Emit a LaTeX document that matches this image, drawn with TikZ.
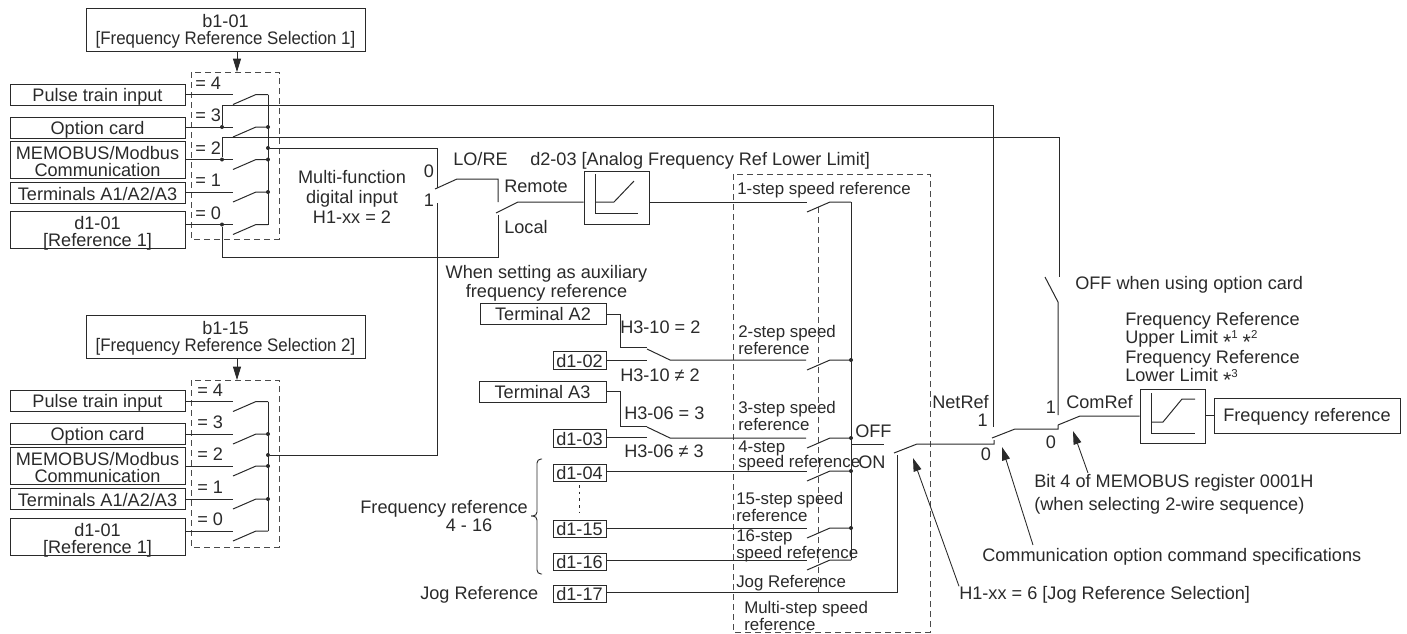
\documentclass[tikz,border=0pt]{standalone}
\usepackage{fontspec}
\setmainfont{Liberation Sans}
\newfontfamily\cnd[FakeStretch=0.93]{Liberation Sans}
\usetikzlibrary{arrows.meta}
\definecolor{ln}{HTML}{2a2a2a}
\tikzset{
  x=0.75pt,y=-0.75pt,
  wire/.style={draw=ln,line width=0.75pt,line join=miter},
  dash box/.style={draw=ln!85,line width=0.7pt,dash pattern=on 4.5pt off 3pt},
  arrowline/.style={draw=ln,line width=0.65pt,-{Triangle[length=10pt,width=6pt]}},
  base/.style={inner sep=0pt,text=ln,font=\fontsize{13.6}{13}\selectfont},
  lbl/.style={base,text height=9.7pt,text depth=0pt},
  lblw/.style={lbl,anchor=west},
  lble/.style={lbl,anchor=east},
  lblc/.style={lbl,anchor=center},
  mlw/.style={base,anchor=west,align=left},
  mlc/.style={base,anchor=center,align=center},
  stp/.style={lblw,font=\fontsize{12.65}{11.5}\selectfont},
  stpm/.style={mlw,font=\fontsize{12.65}{11.25}\selectfont},
  jdot/.style={circle,fill=ln,inner sep=0pt,minimum size=3pt},
  bframe/.style={draw=ln,line width=0.75pt,inner sep=0pt},
  btext/.style={inner sep=0pt,align=center,text=ln,font=\fontsize{13.6}{12.6}\selectfont},
}
% switch: name, x of open end, y of the line, x of the far end
\newcommand\swt[4]{%
  \coordinate (#1a) at (#2,#3+10);
  \coordinate (#1b) at (#2+23,#3);
  \coordinate (#1c) at (#4,#3);
  \draw[wire] (#1a) -- (#1b) -- (#1c);}
% named frame with its text: [shift] name x0 y0 x1 y1 text
\newcommand\nbx[7][1.5]{%
  \pgfmathsetmacro\bw{(#5-#3)*0.75}\pgfmathsetmacro\bh{(#6-#4)*0.75}%
  \node[bframe,minimum width=\bw pt,minimum height=\bh pt] (#2) at ({(#3+#5)/2},{(#4+#6)/2}) {};
  \node[btext] (#2t) at ([yshift=-#1 pt]#2.center) {#7};}
% footnote mark
\newcommand\fnm[1]{{\fontsize{16}{16}\selectfont\raisebox{-0.55ex}{*}}{\fontsize{8.6}{8.6}\selectfont\raisebox{0.75ex}{#1}}}
\begin{document}
\begin{tikzpicture}
\useasboundingbox (0,0) rectangle (1407,633);
% ---------- selector 1
\nbx{top}{86}{8}{365}{51}{b1-01\\{\cnd [Frequency Reference Selection 1]}}
\draw[dash box] (191,72) rectangle (279,239);
\coordinate (dtop) at (237,72);
\draw[arrowline] (top.south -| dtop) -- (dtop);
\nbx{ap}{10}{84}{185}{105}{Pulse train input}
\nbx{ao}{10}{117}{185}{138}{Option card}
\nbx{am}{10}{141}{185}{178}{MEMOBUS/Modbus\\Communication}
\nbx{at}{10}{182}{185}{203}{Terminals A1/A2/A3}
\nbx[3]{ad}{10}{211}{185}{248}{d1-01\\{}[Reference 1]}
\foreach \n/\v/\y in {ap/4/94.5,ao/3/127,am/2/159.5,at/1/192,ad/0/224.5}{
  \swt{s\n}{233}{\y}{268}
  \coordinate (i\n) at (233,\y);
  \draw[wire] (\n.east |- i\n) -- (i\n);
  \node[lblw] (l\n) at (195,\y-11.5) {= \v};
}
\draw[wire] (sapc) -- (sadc);
\foreach \n in {ao,am,at}{\node[jdot] (j\n) at (s\n c) {};}
\node[jdot] (aout) at (268,148) {};
\node[jdot] (ao1) at (222,127) {};
\node[jdot] (am1) at (222,159.5) {};
\node[jdot] (ad1) at (222,224.5) {};
% ---------- selector 2
\nbx{top2}{86}{315}{365}{358}{b1-15\\{\cnd [Frequency Reference Selection 2]}}
\draw[dash box] (191,380) rectangle (279,547);
\coordinate (dtopb) at (237,380);
\draw[arrowline] (top2.south -| dtopb) -- (dtopb);
\nbx{bp}{10}{390}{185}{411.5}{Pulse train input}
\nbx{bo}{10}{423}{185}{444}{Option card}
\nbx{bm}{10}{447}{185}{484}{MEMOBUS/Modbus\\Communication}
\nbx{bt}{10}{488}{185}{509}{Terminals A1/A2/A3}
\nbx[3]{bd}{10}{518}{185}{555}{d1-01\\{}[Reference 1]}
\foreach \n/\v/\y in {bp/4/401.5,bo/3/434,bm/2/466,bt/1/499,bd/0/531}{
  \swt{s\n}{233}{\y}{268}
  \coordinate (i\n) at (233,\y);
  \draw[wire] (\n.east |- i\n) -- (i\n);
  \node[lblw] (l\n) at (197,\y-11.5) {= \v};
}
\draw[wire] (sbpc) -- (sbdc);
\foreach \n in {bo,bm,bt}{\node[jdot] (j\n) at (s\n c) {};}
\node[jdot] (bout) at (268,455) {};
% ---------- LO/RE selection
\coordinate (mf0) at (437,148);
\coordinate (mf0e) at (437,188);
\coordinate (mf1) at (437,203);
\coordinate (mf1b) at (437,455);
\draw[wire] (aout) -- (mf0) -- (mf0e);
\draw[wire] (bout) -- (mf1b) -- (mf1);
\coordinate (lr1) at (435,189);
\coordinate (lr2) at (457,179);
\coordinate (lr3) at (498,179);
\coordinate (lr4) at (498,202);
\draw[wire] (lr1) -- (lr2) -- (lr3) -- (lr4);
\nbx{lim1}{584}{171}{649}{224}{}
\coordinate (rl1) at (496,213);
\coordinate (rl2) at (518,202);
\draw[wire] (rl1) -- (rl2) -- (lim1.west |- rl2);
\coordinate (loc1) at (498,215);
\coordinate (loc2) at (498,257);
\coordinate (loc3) at (222,257);
\draw[wire] (loc1) -- (loc2) -- (loc3) -- (ad1);
\draw[wire] (595,174) -- (595,213) -- (638,213);
\draw[wire] (595,202) -- (614,202) -- (634,181);
\node[lblc] (n0) at (429,171) {0};
\node[lblc] (n1) at (429,200) {1};
\node[lblw] (lore) at (453,159) {LO/RE};
\node[lblw] (d203) at (530,159) {d2-03 [Analog Frequency Ref Lower Limit]};
\node[lblw] (rem) at (504,186) {Remote};
\node[lblw] (locl) at (504,227) {Local};
\node[mlc,font=\fontsize{13.6}{15}\selectfont] (mfd) at (352,197) {Multi-function\\digital input\\H1-xx = 2};
\node[mlc,font=\fontsize{13.6}{14.25}\selectfont] (aux) at (546.5,283) {When setting as auxiliary\\frequency reference};
% ---------- multi-step block
\draw[dash box] (733,174) rectangle (930,632);
\coordinate (inA) at (818,207);
\coordinate (inB) at (818,597);
\draw[dash box] (inA) -- (inB);
\swt{m1}{807}{202}{851}
\coordinate (m1i) at (807,202);
\draw[wire] (lim1.east |- m1i) -- (m1i);
\nbx[0.4]{ta2}{480}{303}{606}{324}{Terminal A2}
\nbx[0.4]{d102}{553}{351}{606}{369}{d1-02}
\nbx[0.4]{ta3}{479}{381}{606}{402}{Terminal A3}
\nbx[0.4]{d103}{553}{429}{606}{447}{d1-03}
\nbx[0.4]{d104}{553}{464}{606}{481}{d1-04}
\nbx[0.4]{d115}{553}{520}{606}{537}{d1-15}
\nbx[0.4]{d116}{553}{553}{606}{570}{d1-16}
\nbx[0.4]{d117}{553}{585}{606}{602}{d1-17}
% two-way selections
\coordinate (a2c1) at (620.5,314);
\coordinate (a2c2) at (620.5,347);
\coordinate (a2c3) at (647,347);
\draw[wire] (ta2.east |- a2c1) -- (a2c1) -- (a2c2) -- (a2c3);
\coordinate (a2d) at (647,360);
\draw[wire] (d102.east |- a2d) -- (a2d);
\coordinate (a2e) at (647,349);
\coordinate (a2f) at (670,360);
\coordinate (a2g) at (806,360);
\draw[wire] (a2e) -- (a2f) -- (a2g);
\swt{m2}{807}{360}{851}
\coordinate (a3c1) at (620.5,391);
\coordinate (a3c2) at (620.5,426);
\coordinate (a3c3) at (647,426);
\draw[wire] (ta3.east |- a3c1) -- (a3c1) -- (a3c2) -- (a3c3);
\coordinate (a3d) at (647,437);
\draw[wire] (d103.east |- a3d) -- (a3d);
\coordinate (a3e) at (647,427);
\coordinate (a3f) at (670,438);
\coordinate (a3g) at (806,438);
\draw[wire] (a3e) -- (a3f) -- (a3g);
\swt{m3}{807}{438}{851}
\swt{m4}{807}{471}{851}
\coordinate (m4i) at (807,471);
\draw[wire] (d104.east |- m4i) -- (m4i);
\swt{m15}{807}{528}{851}
\coordinate (m15i) at (807,528);
\draw[wire] (d115.east |- m15i) -- (m15i);
\swt{m16}{807}{560}{851}
\coordinate (m16i) at (807,560);
\draw[wire] (d116.east |- m16i) -- (m16i);
\draw[wire] (m1c) -- (m16c);
\foreach \n in {m2,m3,m4,m15}{\node[jdot] (j\n) at (\n c) {};}
\coordinate (od) at (579,485);
\coordinate (odb) at (579,512);
\draw[draw=ln,line width=0.7pt,dash pattern=on 2pt off 3pt] (od) -- (odb);
% brace
\coordinate (brT) at (542,459);
\coordinate (brB) at (542,574);
\coordinate (brM) at (531,516);
\draw[wire,line width=0.7pt,rounded corners=3pt] (brT) -- (537,459) -- (537,516) -- (brM);
\draw[wire,line width=0.7pt,rounded corners=3pt] (brB) -- (537,574) -- (537,516) -- (brM);
% jog / off-on
\coordinate (off1) at (884,444);
\coordinate (mj) at (851,444);
\draw[wire] (mj) -- (off1);
\coordinate (on1) at (897,455);
\coordinate (on2) at (897,592);
\draw[wire] (on1) -- (on2) -- (d117.east |- on2);
\coordinate (sw1) at (894,453);
\coordinate (sw2) at (917,444);
\coordinate (net1) at (994,444);
\draw[wire] (sw1) -- (sw2) -- (net1) -- (994,440);
\node[lblw] (off) at (855,431) {OFF};
\node[lblw] (on) at (858,462) {ON};
% long feeds
\coordinate (p1) at (993,105);
\coordinate (p2) at (993,427);
\draw[wire] (ao1) -- (222,105) -- (p1) -- (p2);
\coordinate (q1) at (1059,137);
\coordinate (q2) at (1059,277);
\draw[wire] (am1) -- (222,137) -- (q1) -- (q2);
\coordinate (q3) at (1045,277);
\coordinate (q4) at (1058,302);
\coordinate (q5) at (1058,415);
\draw[wire] (q3) -- (q4) -- (q5);
% final stage
\coordinate (n1a) at (992,438);
\coordinate (n1b) at (1015,429);
\coordinate (n1c) at (1058,429);
\draw[wire] (n1a) -- (n1b) -- (n1c) -- (1058,425);
\coordinate (c1a) at (1058,425);
\coordinate (c1b) at (1080,416);
\nbx{lim2}{1140}{389}{1205}{443}{}
\draw[wire] (c1a) -- (c1b) -- (lim2.west |- c1b);
\draw[wire] (1151,393) -- (1151,433) -- (1195,433);
\draw[wire] (1151,422) -- (1163,422) -- (1182,399) -- (1195,399);
\nbx[0.7]{fr}{1214}{398}{1400}{433}{Frequency reference}
\draw[wire] (lim2.east |- fr.west) -- (fr.west);
% arrows
\node[lblw] (h1) at (959,593) {H1-xx = 6 [Jog Reference Selection]};
\coordinate (h1t) at (913,458);
\draw[arrowline] (h1.north west) -- (h1t);
\node[lblw] (com) at (982,555) {Communication option command specifications};
\coordinate (comt) at (1002,447);
\coordinate (coms) at (1033,545);
\draw[arrowline] (coms) -- (comt);
\node[mlw,font=\fontsize{13.6}{17}\selectfont] (bit) at (1034,494.5) {Bit 4 of MEMOBUS register 0001H\\(when selecting 2-wire sequence)};
\coordinate (bitt) at (1073,431);
\coordinate (bits) at (1088,473);
\draw[arrowline] (bits) -- (bitt);
% labels
\node[lblw] (oc) at (1075,283) {OFF when using option card};
\node[mlw,font=\fontsize{13.6}{13.5}\selectfont] (frl) at (1125,350) {Frequency Reference\\Upper Limit \fnm{1} \fnm{2}\\Frequency Reference\\Lower Limit \fnm{3}};
\node[lblw] (cr) at (1066,402) {ComRef};
\node[lble] (nr) at (989,402) {NetRef};
\node[lble] (nr1) at (988,420) {1};
\node[lblc] (nr0) at (986,454) {0};
\node[lblc] (cr1) at (1051,407) {1};
\node[lblc] (cr0) at (1051,442) {0};
\node[lblw] (h310a) at (620,327) {H3-10 = 2};
\node[lblw] (h310b) at (620,375) {H3-10 ≠ 2};
\node[lblw] (h306a) at (624,413) {H3-06 = 3};
\node[lblw] (h306b) at (624,451) {H3-06 ≠ 3};
\node[lble] (frq) at (528,507) {Frequency reference};
\node[lblc] (frqb) at (469,525) {4 - 16};
\node[lblw] (jr) at (420,593) {Jog Reference};
\node[stp] (t1) at (737,188) {1-step speed reference};
\node[stpm] (t2) at (738,339.5) {2-step speed\\reference};
\node[stpm] (t3) at (738,415.5) {3-step speed\\reference};
\node[stpm,font=\fontsize{12.65}{11.8}\selectfont] (t4) at (738,456) {4-step\\speed reference};
\node[stpm] (t15) at (736,507) {15-step speed\\reference};
\node[stpm,font=\fontsize{12.65}{10.5}\selectfont] (t16) at (736,546) {16-step\\speed reference};
\node[stp] (tj) at (736,581) {Jog Reference};
\node[stpm] (tm) at (744,615.5) {Multi-step speed\\reference};
\end{tikzpicture}
\end{document}
